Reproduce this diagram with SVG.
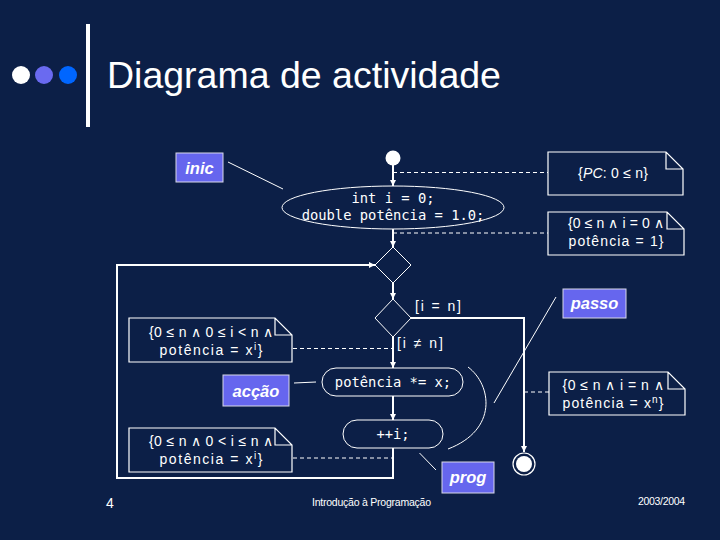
<svg xmlns="http://www.w3.org/2000/svg" width="720" height="540" viewBox="0 0 720 540">
<defs>
<style>
.flow{stroke:#fff;stroke-width:2;fill:none}
.thin{stroke:#fff;stroke-width:1;fill:none}
.dash{stroke:#fff;stroke-width:1;stroke-dasharray:4 3;fill:none}
.note{stroke:#fff;stroke-width:1.2;fill:none}
.nt{font-family:"Liberation Sans",Arial,sans-serif;font-size:14px;fill:#fff;text-anchor:middle}
.sup{font-size:10px}
.code{font-family:"DejaVu Sans Mono","Liberation Mono",monospace;font-size:13.8px;fill:#fff;text-anchor:middle}
.lb{fill:#6666ee;stroke:#d8d8e8;stroke-width:1}
.lt{font-family:"Liberation Sans",Arial,sans-serif;font-size:16.5px;font-style:italic;font-weight:bold;fill:#fff;text-anchor:middle}
.ft{font-family:"Liberation Sans",Arial,sans-serif;fill:#fff}
</style>
<marker id="arr" viewBox="0 0 6 6" refX="6" refY="3" markerWidth="6" markerHeight="6" markerUnits="userSpaceOnUse" orient="auto">
<path d="M0,0 L6,3 L0,6 z" fill="#fff"/>
</marker>
</defs>
<rect width="720" height="540" fill="#0c1f47"/>

<g id="title">
<circle cx="21" cy="75" r="9" fill="#ffffff"/>
<circle cx="44" cy="75" r="9" fill="#6a6af0"/>
<circle cx="68" cy="75" r="9" fill="#0066ff"/>
<rect x="86" y="24" width="4" height="103" fill="#ffffff"/>
<text x="107" y="88" font-family="Liberation Sans, Arial, sans-serif" font-size="37.5" fill="#fff">Diagrama de actividade</text>
</g>

<g id="connectors">
<line class="flow" x1="393" y1="165" x2="393" y2="186" marker-end="url(#arr)"/>
<line class="flow" x1="393" y1="229" x2="393" y2="247" marker-end="url(#arr)"/>
<line class="flow" x1="393" y1="283" x2="393" y2="299" marker-end="url(#arr)"/>
<line class="flow" x1="393" y1="337" x2="393" y2="368" marker-end="url(#arr)"/>
<line class="flow" x1="393" y1="396" x2="393" y2="420" marker-end="url(#arr)"/>
<polyline class="flow" points="393,448 393,478 117,478 117,265 375,265" marker-end="url(#arr)"/>
<polyline class="flow" points="411,318 524,318 524,452" marker-end="url(#arr)"/>
<line class="dash" x1="393" y1="172.5" x2="548" y2="172.5"/>
<line class="dash" x1="393" y1="233" x2="548" y2="233"/>
<line class="dash" x1="293" y1="348.5" x2="393" y2="348.5"/>
<line class="dash" x1="293" y1="458" x2="393" y2="458"/>
<line class="dash" x1="524" y1="392" x2="549" y2="392"/>
<line class="thin" x1="228" y1="162" x2="283" y2="189"/>
<line class="thin" x1="294" y1="383" x2="316" y2="382"/>
<line class="thin" x1="556" y1="297" x2="494" y2="403"/>
<line class="thin" x1="419.5" y1="453" x2="436" y2="470"/>
<path class="thin" d="M468,367 C492,385 498,430 448,449"/>
</g>

<g id="start"><circle cx="393" cy="158" r="7.5" fill="#fff"/></g>

<g id="init">
<ellipse class="thin" cx="393" cy="207.5" rx="111" ry="21.5"/>
<text class="code" x="393" y="203">int i = 0;</text>
<text class="code" x="393" y="220">double potência = 1.0;</text>
</g>

<g id="merge"><polygon class="thin" points="393,247 411,265 393,283 375,265"/></g>
<g id="decision"><polygon class="thin" points="393,299 411,318 393,337 375,318"/></g>

<g id="guards">
<text class="nt" style="text-anchor:start" x="415" y="311" textLength="46">[i = n]</text>
<text class="nt" style="text-anchor:start" x="397" y="348" textLength="46">[i ≠ n]</text>
</g>

<g id="action">
<rect class="thin" x="322" y="368" width="141" height="28" rx="14" ry="14"/>
<text class="code" x="393" y="387">potência *= x;</text>
</g>

<g id="increment">
<rect class="thin" x="343" y="420" width="100" height="28" rx="14" ry="14"/>
<text class="code" x="393" y="439">++i;</text>
</g>

<g id="end">
<circle cx="524" cy="464" r="11" fill="none" stroke="#fff" stroke-width="1.2"/>
<circle cx="524" cy="464" r="8" fill="#fff"/>
</g>

<g id="note-pc">
<path class="note" d="M548,152 H666 L683,169 V195 H548 Z M666,152 V169 H683"/>
<text class="nt" x="613" y="178" textLength="70">{<tspan font-style="italic">PC</tspan>: 0 ≤ n}</text>
</g>

<g id="note-init">
<path class="note" d="M548,212 H667 L684,229 V255 H548 Z M667,212 V229 H684"/>
<text class="nt" x="616" y="228" textLength="96">{0 ≤ n ∧ i = 0 ∧</text>
<text class="nt" x="616" y="246" textLength="95">potência = 1}</text>
</g>

<g id="note-inv1">
<path class="note" d="M129,318 H275 L292,335 V362 H129 Z M275,318 V335 H292"/>
<text class="nt" x="211" y="337" textLength="124">{0 ≤ n ∧ 0 ≤ i &lt; n ∧</text>
<text class="nt" x="211" y="355" textLength="103">potência = x<tspan class="sup" dy="-5">i</tspan><tspan dy="5">}</tspan></text>
</g>

<g id="note-inv2">
<path class="note" d="M129,428 H275 L292,445 V472 H129 Z M275,428 V445 H292"/>
<text class="nt" x="211" y="446" textLength="124">{0 ≤ n ∧ 0 &lt; i ≤ n ∧</text>
<text class="nt" x="211" y="464" textLength="103">potência = x<tspan class="sup" dy="-5">i</tspan><tspan dy="5">}</tspan></text>
</g>

<g id="note-post">
<path class="note" d="M549,372 H668 L685,389 V415 H549 Z M668,372 V389 H685"/>
<text class="nt" x="613" y="390" textLength="101">{0 ≤ n ∧ i = n ∧</text>
<text class="nt" x="613" y="408" textLength="101">potência = x<tspan class="sup" dy="-5">n</tspan><tspan dy="5">}</tspan></text>
</g>

<g id="label-inic"><rect class="lb" x="176" y="153" width="47" height="29"/><text class="lt" x="199.5" y="174">inic</text></g>
<g id="label-passo"><rect class="lb" x="563" y="289" width="63" height="29"/><text class="lt" x="594.5" y="309">passo</text></g>
<g id="label-accao"><rect class="lb" x="223" y="375" width="66" height="31"/><text class="lt" x="256" y="397">acção</text></g>
<g id="label-prog"><rect class="lb" x="442" y="462" width="52" height="31"/><text class="lt" x="468" y="483">prog</text></g>

<g id="footer">
<text class="ft" x="106" y="508" font-size="14">4</text>
<text class="ft" x="312" y="506" font-size="10.5" textLength="119">Introdução à Programação</text>
<text class="ft" x="638" y="505" font-size="10.5" textLength="47">2003/2004</text>
</g>
</svg>
